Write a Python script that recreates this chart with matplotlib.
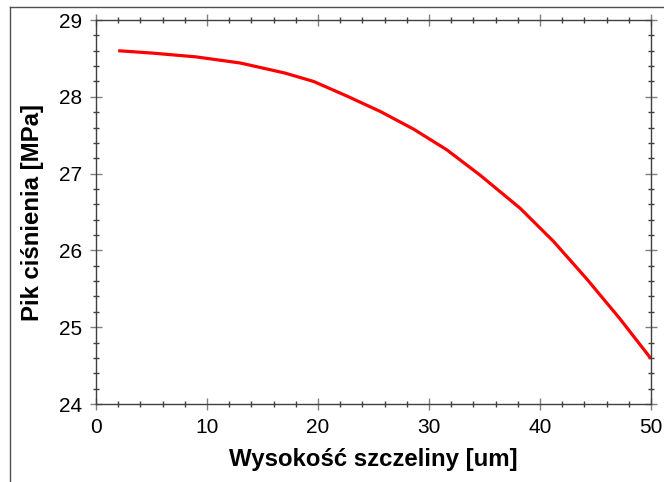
import matplotlib
matplotlib.use("Agg")
import matplotlib.pyplot as plt
import matplotlib.ticker as ticker
from matplotlib.lines import Line2D

plt.rcParams['font.family'] = ['Liberation Sans', 'DejaVu Sans']

# gap height [um] vs pressure peak [MPa]
gap = [2, 5, 9, 13, 17, 19.6, 22.6, 25.6, 28.6, 31.6, 34.6, 38.2, 41.2, 44.2, 47.2, 50]
peak = [28.60, 28.57, 28.52, 28.44, 28.31, 28.20, 28.01, 27.81, 27.58, 27.31,
        26.98, 26.55, 26.12, 25.63, 25.11, 24.59]

xlabel = "Wysokość szczeliny [um]"
ylabel = "Pik ciśnienia [MPa]"

fig = plt.figure(figsize=(6.64, 4.82), dpi=100)
ax = fig.add_axes([96 / 664, 1 - 404 / 482, 555 / 664, 384 / 482])

ax.plot(gap, peak, color="#ff0000", linewidth=2.3, solid_capstyle="butt",
        solid_joinstyle="round")

ax.set_xlim(0, 50)
ax.set_ylim(24, 29)

# ticks
ax.xaxis.set_major_locator(ticker.MultipleLocator(10))
ax.xaxis.set_minor_locator(ticker.MultipleLocator(2))
ax.yaxis.set_major_locator(ticker.MultipleLocator(1))
ax.yaxis.set_minor_locator(ticker.MultipleLocator(0.2))
ax.tick_params(which="both", direction="inout", top=True, right=True,
               color="#404040", width=1, labelsize=15, pad=6)
ax.tick_params(which="major", length=8, color="#808080")
ax.tick_params(which="minor", length=5)

for s in ax.spines.values():
    s.set_color("#404040")
    s.set_linewidth(1)

ax.set_xlabel(xlabel, fontsize=17.3, fontweight="bold", labelpad=8)
ax.set_ylabel(ylabel, fontsize=17.3, fontweight="bold", labelpad=11)

# outer frame of the original figure
fig.add_artist(Line2D([10 / 664, 1], [1 - 7 / 482, 1 - 7 / 482],
                      transform=fig.transFigure, color="#505050", linewidth=1))
fig.add_artist(Line2D([10 / 664, 10 / 664], [0, 1 - 7 / 482],
                      transform=fig.transFigure, color="#505050", linewidth=1))

fig.savefig("out.png", dpi=100)
